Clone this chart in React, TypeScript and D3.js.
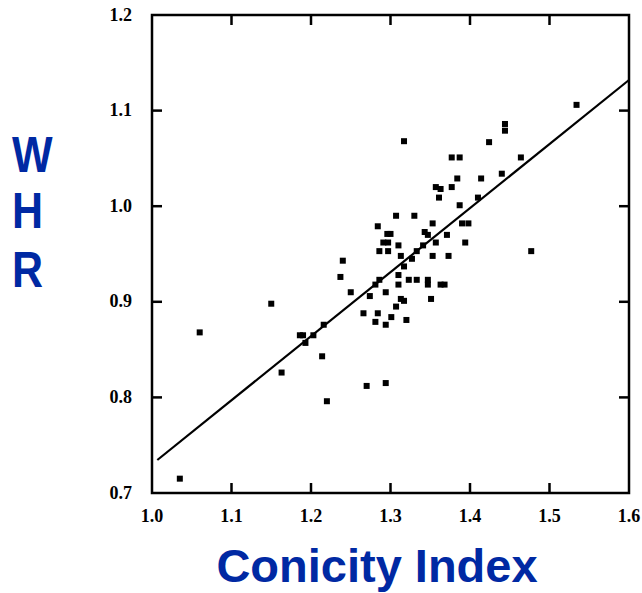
import React from "react";
import * as d3 from "d3";

const conicity: number[] = [
  1.035, 1.060, 1.150, 1.163, 1.214, 1.220, 1.270, 1.294, 1.317, 1.307,
  1.330, 1.284, 1.296, 1.300, 1.291, 1.297, 1.310, 1.286, 1.297, 1.333,
  1.313, 1.327, 1.240, 1.317, 1.237, 1.310, 1.323, 1.333, 1.286, 1.281,
  1.310, 1.250, 1.274, 1.294, 1.313, 1.317, 1.307, 1.266, 1.284, 1.301,
  1.281, 1.294, 1.320, 1.216, 1.186, 1.190, 1.203, 1.193, 1.534, 1.444,
  1.444, 1.424, 1.377, 1.387, 1.464, 1.384, 1.414, 1.440, 1.357, 1.363,
  1.377, 1.361, 1.410, 1.387, 1.353, 1.390, 1.398, 1.343, 1.347, 1.371,
  1.341, 1.357, 1.394, 1.353, 1.373, 1.477, 1.347, 1.347, 1.363, 1.368,
  1.351,
];
const whr: number[] = [
  0.715, 0.868, 0.898, 0.826, 0.843, 0.796, 0.812, 0.815, 1.068, 0.990,
  0.990, 0.979, 0.971, 0.971, 0.962, 0.962, 0.959, 0.953, 0.953, 0.953,
  0.948, 0.945, 0.943, 0.937, 0.926, 0.928, 0.923, 0.923, 0.923, 0.918,
  0.918, 0.910, 0.906, 0.910, 0.903, 0.901, 0.895, 0.888, 0.888, 0.884,
  0.879, 0.876, 0.881, 0.876, 0.865, 0.865, 0.865, 0.857, 1.106, 1.086,
  1.079, 1.067, 1.051, 1.051, 1.051, 1.029, 1.029, 1.034, 1.020, 1.018,
  1.020, 1.009, 1.009, 1.001, 0.982, 0.982, 0.982, 0.973, 0.970, 0.970,
  0.959, 0.962, 0.962, 0.948, 0.948, 0.953, 0.923, 0.918, 0.918, 0.918,
  0.903,
];
const fitX: number[] = [1.0067, 1.6];
const fitY: number[] = [0.7345, 1.132];
const xTicks: number[] = [1.0, 1.1, 1.2, 1.3, 1.4, 1.5, 1.6];
const yTicks: number[] = [0.7, 0.8, 0.9, 1.0, 1.1, 1.2];
const xTitle = "Conicity Index";
const yTitleLetters: string[] = ["W", "H", "R"];

const W = 642;
const H = 593;
const L = 152, R = 629, T = 15, B = 493;
const blue = "#0029a3";

export default function App() {
  const x = d3.scaleLinear().domain([1.0, 1.6]).range([L, R]);
  const y = d3.scaleLinear().domain([0.7, 1.2]).range([B, T]);
  const line = d3
    .line<number>()
    .x((d) => x(d))
    .y((_, i) => y(fitY[i]));
  const tk = 10;
  const sw = 2.5;
  const innerX = xTicks.slice(1, -1);
  const innerY = yTicks.slice(1, -1);
  const sq = 6;
  return (
    <svg
      width={W}
      height={H}
      style={{ position: "absolute", left: 0, top: 0, background: "#fff" }}
    >
      <rect x={0} y={0} width={W} height={H} fill="#fff" />
      <rect
        x={L}
        y={T}
        width={R - L}
        height={B - T}
        fill="none"
        stroke="#000"
        strokeWidth={sw}
      />
      {innerX.map((t) => (
        <g key={"xt" + t}>
          <line x1={x(t)} x2={x(t)} y1={B} y2={B - tk} stroke="#000" strokeWidth={sw} />
          <line x1={x(t)} x2={x(t)} y1={T} y2={T + tk} stroke="#000" strokeWidth={sw} />
        </g>
      ))}
      {innerY.map((t) => (
        <g key={"yt" + t}>
          <line x1={L} x2={L + tk} y1={y(t)} y2={y(t)} stroke="#000" strokeWidth={sw} />
          <line x1={R} x2={R - tk} y1={y(t)} y2={y(t)} stroke="#000" strokeWidth={sw} />
        </g>
      ))}
      {xTicks.map((t) => (
        <text
          key={"xl" + t}
          x={x(t)}
          y={522}
          textAnchor="middle"
          fontFamily="'Liberation Serif', 'Times New Roman', serif"
          fontWeight="bold"
          fontSize={18}
        >
          {t.toFixed(1)}
        </text>
      ))}
      {yTicks.map((t) => (
        <text
          key={"yl" + t}
          x={132}
          y={y(t) + 5.5}
          textAnchor="end"
          fontFamily="'Liberation Serif', 'Times New Roman', serif"
          fontWeight="bold"
          fontSize={18}
        >
          {t.toFixed(1)}
        </text>
      ))}
      <path d={line(fitX) || ""} fill="none" stroke="#000" strokeWidth={2.2} />
      {conicity.map((c, i) => (
        <rect
          key={"p" + i}
          x={x(c) - sq / 2}
          y={y(whr[i]) - sq / 2}
          width={sq}
          height={sq}
          fill="#000"
        />
      ))}
      <text
        x={377}
        y={582}
        textAnchor="middle"
        fontFamily="'Liberation Sans', Arial, sans-serif"
        fontWeight="bold"
        fontSize={47}
        fill={blue}
      >
        {xTitle}
      </text>
      {yTitleLetters.map((l, i) => (
        <text
          key={"yt" + l}
          transform={`translate(12, ${[172, 228, 287][i]}) scale(1, 1.18)`}
          fontFamily="'Liberation Sans', Arial, sans-serif"
          fontWeight="bold"
          fontSize={43}
          fill={blue}
        >
          {l}
        </text>
      ))}
    </svg>
  );
}
